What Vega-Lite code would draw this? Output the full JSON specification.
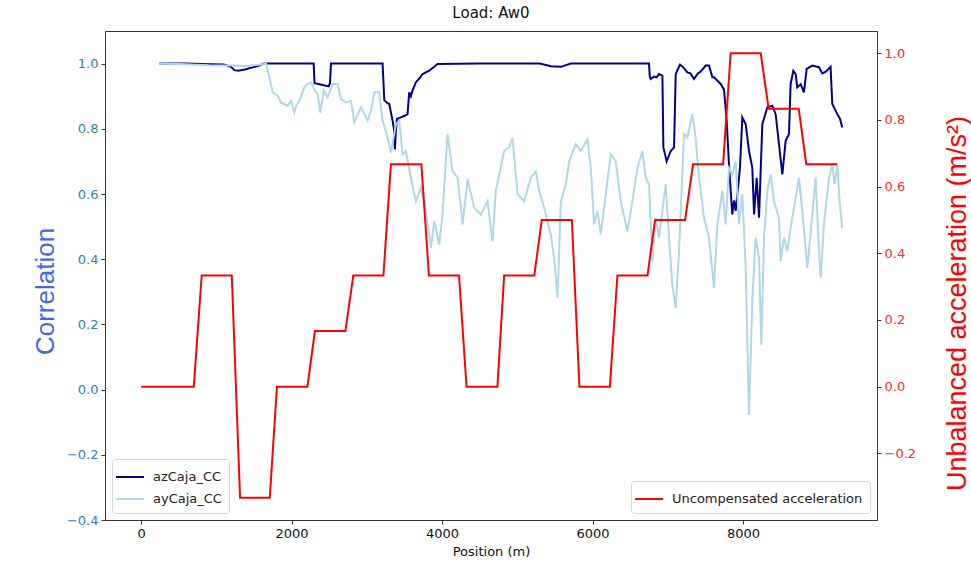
{
  "$schema": "https://vega.github.io/schema/vega-lite/v6.json",
  "width": 772,
  "height": 489,
  "autosize": {"type": "none"},
  "padding": {"left": 105, "top": 31, "right": 94, "bottom": 48},
  "background": "white",
  "title": {"text": "Load: Aw0", "font": "DejaVu Sans", "fontSize": 15, "fontWeight": "normal", "color": "#111", "anchor": "middle", "offset": 10},
  "config": {
    "view": {"stroke": "#333", "strokeWidth": 1},
    "axis": {"grid": false, "domain": false, "labelFont": "DejaVu Sans", "labelFontSize": 13, "tickColor": "#333", "tickSize": 4, "tickWidth": 1, "labelPadding": 3, "titleFontWeight": "normal"},
    "legend": {"labelFont": "DejaVu Sans", "labelFontSize": 13, "labelColor": "#222", "labelLimit": 400, "symbolType": "M-1.4,0H1.4", "symbolSize": 400, "symbolStrokeWidth": 2, "strokeColor": "#d6d6d6", "fillColor": "white", "cornerRadius": 3, "padding": 7, "rowPadding": 4, "labelOffset": 12, "offset": 7}
  },
  "datasets": {
    "az": [
      {"pos": 243, "corr": 1.0}, {"pos": 600, "corr": 1.0}, {"pos": 903, "corr": 0.998}, {"pos": 1100, "corr": 0.997},
      {"pos": 1195, "corr": 0.99}, {"pos": 1240, "corr": 0.98}, {"pos": 1290, "corr": 0.978}, {"pos": 1380, "corr": 0.982},
      {"pos": 1460, "corr": 0.987}, {"pos": 1560, "corr": 0.993}, {"pos": 1634, "corr": 1.0}, {"pos": 2293, "corr": 1.0},
      {"pos": 2305, "corr": 0.94}, {"pos": 2400, "corr": 0.935}, {"pos": 2492, "corr": 0.93}, {"pos": 2510, "corr": 0.94},
      {"pos": 2523, "corr": 1.0}, {"pos": 3209, "corr": 1.0}, {"pos": 3232, "corr": 0.888}, {"pos": 3265, "corr": 0.88},
      {"pos": 3298, "corr": 0.876}, {"pos": 3320, "corr": 0.85}, {"pos": 3342, "corr": 0.825}, {"pos": 3360, "corr": 0.8},
      {"pos": 3373, "corr": 0.737}, {"pos": 3385, "corr": 0.79}, {"pos": 3400, "corr": 0.83}, {"pos": 3453, "corr": 0.835},
      {"pos": 3500, "corr": 0.84}, {"pos": 3541, "corr": 0.845}, {"pos": 3563, "corr": 0.912}, {"pos": 3585, "corr": 0.9},
      {"pos": 3607, "corr": 0.917}, {"pos": 3630, "corr": 0.93}, {"pos": 3652, "corr": 0.943}, {"pos": 3700, "corr": 0.955},
      {"pos": 3741, "corr": 0.968}, {"pos": 3829, "corr": 0.978}, {"pos": 3940, "corr": 0.999}, {"pos": 4500, "corr": 1.0},
      {"pos": 5300, "corr": 1.0}, {"pos": 5445, "corr": 0.992}, {"pos": 5580, "corr": 0.99}, {"pos": 5710, "corr": 1.0},
      {"pos": 6750, "corr": 1.0}, {"pos": 6760, "corr": 0.96}, {"pos": 6773, "corr": 0.953}, {"pos": 6817, "corr": 0.96},
      {"pos": 6850, "corr": 0.958}, {"pos": 6883, "corr": 0.968}, {"pos": 6928, "corr": 0.963}, {"pos": 6941, "corr": 0.743},
      {"pos": 6985, "corr": 0.7}, {"pos": 7038, "corr": 0.732}, {"pos": 7083, "corr": 0.743}, {"pos": 7105, "corr": 0.968},
      {"pos": 7162, "corr": 0.997}, {"pos": 7200, "corr": 0.99}, {"pos": 7260, "corr": 0.973}, {"pos": 7300, "corr": 0.97},
      {"pos": 7348, "corr": 0.953}, {"pos": 7400, "corr": 0.97}, {"pos": 7437, "corr": 0.976}, {"pos": 7503, "corr": 0.994},
      {"pos": 7547, "corr": 0.994}, {"pos": 7592, "corr": 0.958}, {"pos": 7614, "corr": 0.958}, {"pos": 7703, "corr": 0.9375},
      {"pos": 7747, "corr": 0.92}, {"pos": 7782, "corr": 0.825}, {"pos": 7813, "corr": 0.69}, {"pos": 7857, "corr": 0.537},
      {"pos": 7880, "corr": 0.58}, {"pos": 7902, "corr": 0.548}, {"pos": 7959, "corr": 0.68}, {"pos": 7990, "corr": 0.835},
      {"pos": 8035, "corr": 0.814}, {"pos": 8079, "corr": 0.732}, {"pos": 8123, "corr": 0.68}, {"pos": 8146, "corr": 0.537},
      {"pos": 8181, "corr": 0.65}, {"pos": 8212, "corr": 0.527}, {"pos": 8256, "corr": 0.814}, {"pos": 8323, "corr": 0.866},
      {"pos": 8389, "corr": 0.871}, {"pos": 8433, "corr": 0.845}, {"pos": 8477, "corr": 0.754}, {"pos": 8522, "corr": 0.66},
      {"pos": 8566, "corr": 0.763}, {"pos": 8610, "corr": 0.784}, {"pos": 8632, "corr": 0.9375}, {"pos": 8668, "corr": 0.978},
      {"pos": 8699, "corr": 0.968}, {"pos": 8720, "corr": 0.927}, {"pos": 8765, "corr": 0.937}, {"pos": 8809, "corr": 0.912},
      {"pos": 8845, "corr": 0.984}, {"pos": 8920, "corr": 0.994}, {"pos": 9009, "corr": 0.989}, {"pos": 9053, "corr": 0.97},
      {"pos": 9100, "corr": 0.975}, {"pos": 9163, "corr": 0.99}, {"pos": 9186, "corr": 0.876}, {"pos": 9252, "corr": 0.845},
      {"pos": 9290, "corr": 0.83}, {"pos": 9318, "corr": 0.804}
    ],
    "ay": [
      {"pos": 243, "corr": 1.0}, {"pos": 600, "corr": 0.998}, {"pos": 900, "corr": 0.995}, {"pos": 1200, "corr": 0.994},
      {"pos": 1400, "corr": 0.993}, {"pos": 1600, "corr": 0.997}, {"pos": 1660, "corr": 1.0}, {"pos": 1704, "corr": 0.958},
      {"pos": 1749, "corr": 0.912}, {"pos": 1815, "corr": 0.902}, {"pos": 1860, "corr": 0.88}, {"pos": 1903, "corr": 0.876},
      {"pos": 1948, "corr": 0.871}, {"pos": 1992, "corr": 0.886}, {"pos": 2036, "corr": 0.85}, {"pos": 2060, "corr": 0.87},
      {"pos": 2102, "corr": 0.886}, {"pos": 2169, "corr": 0.927}, {"pos": 2213, "corr": 0.9375}, {"pos": 2258, "corr": 0.943},
      {"pos": 2302, "corr": 0.92}, {"pos": 2346, "corr": 0.907}, {"pos": 2381, "corr": 0.85}, {"pos": 2426, "corr": 0.917},
      {"pos": 2479, "corr": 0.896}, {"pos": 2545, "corr": 0.9375}, {"pos": 2612, "corr": 0.9375}, {"pos": 2656, "corr": 0.891},
      {"pos": 2722, "corr": 0.881}, {"pos": 2789, "corr": 0.886}, {"pos": 2833, "corr": 0.82}, {"pos": 2922, "corr": 0.866},
      {"pos": 3010, "corr": 0.825}, {"pos": 3060, "corr": 0.86}, {"pos": 3099, "corr": 0.912}, {"pos": 3165, "corr": 0.912},
      {"pos": 3209, "corr": 0.825}, {"pos": 3276, "corr": 0.773}, {"pos": 3320, "corr": 0.727}, {"pos": 3386, "corr": 0.814},
      {"pos": 3430, "corr": 0.825}, {"pos": 3475, "corr": 0.722}, {"pos": 3519, "corr": 0.732}, {"pos": 3586, "corr": 0.65},
      {"pos": 3652, "corr": 0.578}, {"pos": 3718, "corr": 0.62}, {"pos": 3785, "corr": 0.548}, {"pos": 3851, "corr": 0.435},
      {"pos": 3895, "corr": 0.517}, {"pos": 3962, "corr": 0.445}, {"pos": 4006, "corr": 0.537}, {"pos": 4073, "corr": 0.784},
      {"pos": 4139, "corr": 0.67}, {"pos": 4206, "corr": 0.65}, {"pos": 4272, "corr": 0.507}, {"pos": 4339, "corr": 0.645},
      {"pos": 4427, "corr": 0.558}, {"pos": 4515, "corr": 0.537}, {"pos": 4604, "corr": 0.578}, {"pos": 4670, "corr": 0.455},
      {"pos": 4714, "corr": 0.61}, {"pos": 4825, "corr": 0.732}, {"pos": 4892, "corr": 0.743}, {"pos": 4936, "corr": 0.773},
      {"pos": 5003, "corr": 0.6}, {"pos": 5091, "corr": 0.578}, {"pos": 5179, "corr": 0.65}, {"pos": 5246, "corr": 0.67},
      {"pos": 5290, "corr": 0.61}, {"pos": 5356, "corr": 0.558}, {"pos": 5445, "corr": 0.476}, {"pos": 5489, "corr": 0.404},
      {"pos": 5534, "corr": 0.281}, {"pos": 5556, "corr": 0.425}, {"pos": 5578, "corr": 0.578}, {"pos": 5644, "corr": 0.63},
      {"pos": 5689, "corr": 0.7}, {"pos": 5777, "corr": 0.753}, {"pos": 5843, "corr": 0.732}, {"pos": 5932, "corr": 0.768},
      {"pos": 5976, "corr": 0.68}, {"pos": 6020, "corr": 0.507}, {"pos": 6065, "corr": 0.548}, {"pos": 6109, "corr": 0.476},
      {"pos": 6175, "corr": 0.6}, {"pos": 6242, "corr": 0.722}, {"pos": 6308, "corr": 0.7}, {"pos": 6375, "corr": 0.578},
      {"pos": 6463, "corr": 0.486}, {"pos": 6529, "corr": 0.578}, {"pos": 6596, "corr": 0.68}, {"pos": 6662, "corr": 0.732},
      {"pos": 6706, "corr": 0.65}, {"pos": 6750, "corr": 0.63}, {"pos": 6795, "corr": 0.394}, {"pos": 6839, "corr": 0.527},
      {"pos": 6883, "corr": 0.466}, {"pos": 6928, "corr": 0.548}, {"pos": 6972, "corr": 0.63}, {"pos": 7016, "corr": 0.466},
      {"pos": 7060, "corr": 0.322}, {"pos": 7105, "corr": 0.25}, {"pos": 7149, "corr": 0.425}, {"pos": 7215, "corr": 0.784},
      {"pos": 7260, "corr": 0.773}, {"pos": 7326, "corr": 0.845}, {"pos": 7370, "corr": 0.773}, {"pos": 7415, "corr": 0.65},
      {"pos": 7481, "corr": 0.527}, {"pos": 7547, "corr": 0.466}, {"pos": 7614, "corr": 0.312}, {"pos": 7659, "corr": 0.507},
      {"pos": 7725, "corr": 0.61}, {"pos": 7769, "corr": 0.507}, {"pos": 7813, "corr": 0.68}, {"pos": 7857, "corr": 0.66},
      {"pos": 7902, "corr": 0.7}, {"pos": 7946, "corr": 0.507}, {"pos": 7990, "corr": 0.6}, {"pos": 8035, "corr": 0.373},
      {"pos": 8079, "corr": -0.078}, {"pos": 8123, "corr": 0.271}, {"pos": 8167, "corr": 0.466}, {"pos": 8212, "corr": 0.404},
      {"pos": 8243, "corr": 0.137}, {"pos": 8279, "corr": 0.466}, {"pos": 8323, "corr": 0.61}, {"pos": 8367, "corr": 0.66},
      {"pos": 8411, "corr": 0.578}, {"pos": 8477, "corr": 0.527}, {"pos": 8499, "corr": 0.394}, {"pos": 8544, "corr": 0.466},
      {"pos": 8588, "corr": 0.425}, {"pos": 8632, "corr": 0.496}, {"pos": 8699, "corr": 0.589}, {"pos": 8743, "corr": 0.65},
      {"pos": 8787, "corr": 0.548}, {"pos": 8854, "corr": 0.373}, {"pos": 8920, "corr": 0.537}, {"pos": 8964, "corr": 0.65},
      {"pos": 9009, "corr": 0.425}, {"pos": 9031, "corr": 0.343}, {"pos": 9075, "corr": 0.507}, {"pos": 9142, "corr": 0.65},
      {"pos": 9186, "corr": 0.69}, {"pos": 9216, "corr": 0.63}, {"pos": 9252, "corr": 0.69}, {"pos": 9283, "corr": 0.578},
      {"pos": 9318, "corr": 0.496}
    ],
    "acc": [
      {"pos": 0, "acc": 0}, {"pos": 700, "acc": 0}, {"pos": 805, "acc": 0.3333}, {"pos": 1205, "acc": 0.3333},
      {"pos": 1315, "acc": -0.3333}, {"pos": 1710, "acc": -0.3333}, {"pos": 1805, "acc": 0}, {"pos": 2210, "acc": 0},
      {"pos": 2310, "acc": 0.1667}, {"pos": 2715, "acc": 0.1667}, {"pos": 2820, "acc": 0.3333}, {"pos": 3220, "acc": 0.3333},
      {"pos": 3320, "acc": 0.6667}, {"pos": 3725, "acc": 0.6667}, {"pos": 3825, "acc": 0.3333}, {"pos": 4225, "acc": 0.3333},
      {"pos": 4325, "acc": 0}, {"pos": 4735, "acc": 0}, {"pos": 4825, "acc": 0.3333}, {"pos": 5225, "acc": 0.3333},
      {"pos": 5325, "acc": 0.5}, {"pos": 5725, "acc": 0.5}, {"pos": 5825, "acc": 0}, {"pos": 6230, "acc": 0},
      {"pos": 6330, "acc": 0.3333}, {"pos": 6730, "acc": 0.3333}, {"pos": 6830, "acc": 0.5}, {"pos": 7230, "acc": 0.5},
      {"pos": 7335, "acc": 0.6667}, {"pos": 7735, "acc": 0.6667}, {"pos": 7835, "acc": 1.0}, {"pos": 8235, "acc": 1.0},
      {"pos": 8340, "acc": 0.8333}, {"pos": 8740, "acc": 0.8333}, {"pos": 8840, "acc": 0.6667}, {"pos": 9250, "acc": 0.6667}
    ]
  },
  "layer": [
    {
      "layer": [
        {
          "data": {"name": "az"},
          "mark": {"type": "line", "strokeWidth": 2, "clip": true},
          "encoding": {
            "x": {"field": "pos", "type": "quantitative", "scale": {"domain": [-480, 9780], "nice": false, "zero": false},
                  "axis": {"values": [0, 2000, 4000, 6000, 8000], "format": "d", "title": "Position (m)", "titleFont": "DejaVu Sans", "titleFontSize": 13, "titleColor": "#111", "labelColor": "#111", "titlePadding": 5}},
            "y": {"field": "corr", "type": "quantitative", "scale": {"domain": [-0.4, 1.1], "nice": false, "zero": false},
                  "axis": {"orient": "left", "values": [-0.4, -0.2, 0, 0.2, 0.4, 0.6, 0.8, 1.0], "format": ".1f", "labelColor": "#2f7fc1",
                           "title": "Correlation", "titleFont": "Liberation Sans", "titleFontSize": 26, "titleColor": "#4169e1",
                           "titleAngle": -90, "titleAlign": "center", "titleBaseline": "middle", "titleX": -60, "titleY": 260}},
            "color": {"datum": "azCaja_CC", "type": "nominal", "scale": {"domain": ["azCaja_CC", "ayCaja_CC"], "range": ["#00008b", "#add8e6"]},
                      "legend": {"title": null, "orient": "bottom-left"}}
          }
        },
        {
          "data": {"name": "ay"},
          "mark": {"type": "line", "strokeWidth": 2, "clip": true},
          "encoding": {
            "x": {"field": "pos", "type": "quantitative"},
            "y": {"field": "corr", "type": "quantitative"},
            "color": {"datum": "ayCaja_CC", "type": "nominal"}
          }
        }
      ]
    },
    {
      "data": {"name": "acc"},
      "mark": {"type": "line", "strokeWidth": 2, "clip": true},
      "encoding": {
        "x": {"field": "pos", "type": "quantitative"},
        "y": {"field": "acc", "type": "quantitative", "scale": {"domain": [-0.4, 1.0667], "nice": false, "zero": false},
              "axis": {"orient": "right", "values": [-0.2, 0, 0.2, 0.4, 0.6, 0.8, 1.0], "format": ".1f", "labelColor": "#ff2a2a",
                       "title": "Unbalanced acceleration (m/s²)", "titleFont": "Liberation Sans", "titleFontSize": 27, "titleColor": "#ff0000",
                       "titleAngle": -90, "titleAlign": "center", "titleBaseline": "middle", "titleX": 80, "titleY": 272}},
        "color": {"datum": "Uncompensated acceleration", "type": "nominal", "scale": {"range": ["#ff0000"]},
                  "legend": {"title": null, "orient": "bottom-right"}}
      }
    }
  ],
  "resolve": {"scale": {"y": "independent", "color": "independent"}}
}
